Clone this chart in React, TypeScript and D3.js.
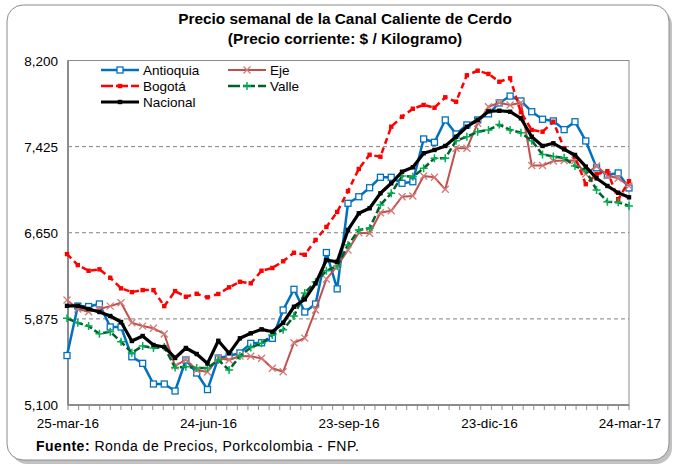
import React from 'react';
import * as d3 from 'd3';

// weekly prices, 25-mar-16 .. 24-mar-17 ($ / kg)
const antioquia = [5545, 5990, 5986, 6009, 5802, 5802, 5534, 5475, 5289, 5289,
  5226, 5505, 5388, 5239, 5523, 5541, 5568, 5655, 5660, 5700,
  5955, 6141, 5937, 6009, 6472, 6145, 6915, 6974, 7055, 7149,
  7149, 7095, 7109, 7494, 7464, 7665, 7539, 7620, 7665, 7720,
  7818, 7880, 7836, 7739, 7671, 7656, 7578, 7649, 7476, 7234,
  7170, 7188, 7053];
const eje = [6045, 5964, 5939, 5964, 5990, 6020, 5840, 5810, 5790, 5739,
  5451, 5509, 5415, 5397, 5523, 5505, 5541, 5538, 5520, 5430,
  5399, 5660, 5702, 5955, 6233, 6350, 6495, 6650, 6645, 6830,
  6848, 6974, 6981, 7161, 7149, 7041, 7410, 7410, 7635, 7784,
  7820, 7800, 7820, 7255, 7255, 7295, 7300, 7300, 7179, 7250,
  7165, 7140, 7071];
const bogota = [6458, 6359, 6308, 6321, 6245, 6150, 6116, 6134, 6134, 5990,
  6125, 6074, 6101, 6069, 6099, 6159, 6209, 6195, 6308, 6333,
  6393, 6470, 6452, 6585, 6702, 6837, 7025, 7224, 7352, 7334,
  7604, 7694, 7766, 7800, 7775, 7869, 7829, 8067, 8108, 8079,
  8009, 8040, 7734, 7575, 7559, 7649, 7410, 7334, 7087, 7177,
  7204, 6952, 7114];
const valle = [5880, 5840, 5810, 5741, 5759, 5669, 5570, 5631, 5613, 5622,
  5437, 5444, 5434, 5433, 5505, 5415, 5541, 5617, 5655, 5730,
  5777, 5900, 6108, 6207, 6308, 6350, 6539, 6675, 6690, 6900,
  7005, 7160, 7154, 7230, 7320, 7320, 7478, 7514, 7559, 7575,
  7624, 7575, 7550, 7478, 7354, 7336, 7324, 7250, 7210, 7035,
  6929, 6924, 6891];
const nacional = [5992, 5992, 5964, 5937, 5901, 5847, 5676, 5721, 5640, 5622,
  5523, 5613, 5559, 5473, 5678, 5565, 5700, 5745, 5781, 5759,
  5840, 5984, 6051, 6195, 6404, 6389, 6675, 6825, 6870, 7005,
  7095, 7199, 7239, 7365, 7395, 7431, 7514, 7604, 7665, 7742,
  7748, 7739, 7680, 7514, 7431, 7455, 7401, 7350, 7245, 7140,
  7071, 7010, 6969];

const yTicks = [5100, 5875, 6650, 7425, 8200];
const xTickWeeks = [0, 13, 26, 39, 52];
const xTickLabels = ['25-mar-16', '24-jun-16', '23-sep-16', '23-dic-16', '24-mar-17'];

const series = [
  { name: 'Antioquia', values: antioquia, color: '#0070C0', marker: 'square', dash: null, width: 2.5 },
  { name: 'Eje', values: eje, color: '#C0504D', marker: 'x', dash: null, width: 2 },
  { name: 'Bogotá', values: bogota, color: '#FF0000', marker: 'dot', dash: '6,4', width: 2.5 },
  { name: 'Valle', values: valle, color: '#006030', marker: 'plus', dash: '7,3', width: 2.5 },
  { name: 'Nacional', values: nacional, color: '#000000', marker: 'dot', dash: null, width: 3.2 },
];

const W = 675;
const H = 468;
const plot = { left: 68, right: 629, top: 60.5, bottom: 405 };
const font = 'Liberation Sans, Arial, sans-serif';

const Marker = ({ type, x, y, color }: any) => {
  if (type === 'square')
    return <rect x={x - 3} y={y - 3} width={6} height={6} fill="#fff" stroke={color} strokeWidth={1.3} />;
  if (type === 'x')
    return <path d={`M${x - 3.5},${y - 3.5}L${x + 3.5},${y + 3.5}M${x - 3.5},${y + 3.5}L${x + 3.5},${y - 3.5}`} stroke="#D27B78" strokeWidth={1.3} />;
  if (type === 'plus')
    return <path d={`M${x - 4},${y}L${x + 4},${y}M${x},${y - 4}L${x},${y + 4}`} stroke="#00B050" strokeWidth={1.5} />;
  return <rect x={x - 2.2} y={y - 2.2} width={4.4} height={4.4} fill={color} />;
};

export default function App() {
  const n = nacional.length;
  const x = d3.scaleLinear().domain([0, n - 1]).range([67, 629]);
  const y = d3.scaleLinear().domain([5100, 8200]).range([plot.bottom, plot.top]);
  const line = d3.line<number>().x((d, i) => x(i)).y(d => y(d));
  const tickStep = (plot.right - plot.left) / n;
  const ticks = d3.range(n + 1).map(i => plot.left + i * tickStep);

  const legend = [
    { s: series[0], lx: 101, ly: 74 },
    { s: series[1], lx: 228, ly: 74 },
    { s: series[2], lx: 101, ly: 90 },
    { s: series[3], lx: 228, ly: 90 },
    { s: series[4], lx: 101, ly: 106 },
  ];

  return (
    <svg width={W} height={H} style={{ position: 'absolute', left: 0, top: 0, fontFamily: font }}>
      <rect x={0} y={0} width={W} height={H} fill="#fff" />
      {/* frame with shadow */}
      <rect x={11} y={9} width={661} height={455} rx={16} fill="#9a9a9a" opacity={0.6} />
      <rect x={7} y={5} width={662} height={455} rx={16} fill="#fff" stroke="#8c8c8c" strokeWidth={1} />

      <text x={345} y={24} textAnchor="middle" fontSize={15.4} fontWeight="bold">Precio semanal de la Canal Caliente de Cerdo</text>
      <text x={345} y={44} textAnchor="middle" fontSize={15.4} fontWeight="bold">(Precio corriente: $ / Kilogramo)</text>

      {/* plot area */}
      <rect x={plot.left} y={plot.top} width={plot.right - plot.left} height={plot.bottom - plot.top} fill="none" stroke="#8c8c8c" strokeWidth={1} />
      {yTicks.slice(1, -1).map(t => (
        <line key={t} x1={plot.left} x2={plot.right} y1={y(t)} y2={y(t)} stroke="#808080" strokeDasharray="4,3" strokeWidth={1} />
      ))}
      <line x1={plot.left} x2={plot.left} y1={plot.top} y2={plot.bottom} stroke="#8c8c8c" strokeWidth={2} />
      <line x1={plot.left} x2={plot.right} y1={plot.bottom} y2={plot.bottom} stroke="#8c8c8c" strokeWidth={2} />
      {ticks.map((t, i) => (
        <line key={i} x1={t} x2={t} y1={plot.bottom} y2={plot.bottom + 5} stroke="#8c8c8c" strokeWidth={1} />
      ))}
      {yTicks.map(t => (
        <text key={t} x={58} y={y(t) + 5} textAnchor="end" fontSize={13.5}>{d3.format(',')(t)}</text>
      ))}
      {xTickWeeks.map((w, i) => (
        <text key={w} x={x(w) + 1} y={428} textAnchor="middle" fontSize={13.5}>{xTickLabels[i]}</text>
      ))}

      {/* series */}
      {series.map(s => (
        <g key={s.name}>
          <path d={line(s.values) || ''} fill="none" stroke={s.color} strokeWidth={s.width} strokeDasharray={s.dash || undefined} strokeLinejoin="round" />
          {s.values.map((v, i) => (
            <Marker key={i} type={s.marker} x={x(i)} y={y(v)} color={s.color} />
          ))}
        </g>
      ))}

      {/* legend */}
      {legend.map(({ s, lx, ly }) => (
        <g key={s.name}>
          <line x1={lx} x2={lx + 38} y1={ly - 4} y2={ly - 4} stroke={s.color} strokeWidth={s.width} strokeDasharray={s.dash ? '12,3' : undefined} />
          <Marker type={s.marker} x={lx + 19} y={ly - 4} color={s.color} />
          <text x={lx + 42} y={ly + 1} fontSize={13.5}>{s.name}</text>
        </g>
      ))}

      <text x={36} y={451} fontSize={14} letterSpacing={0.5}>
        <tspan fontWeight="bold">Fuente:</tspan>
        <tspan> Ronda de Precios, Porkcolombia  - FNP.</tspan>
      </text>
    </svg>
  );
}
